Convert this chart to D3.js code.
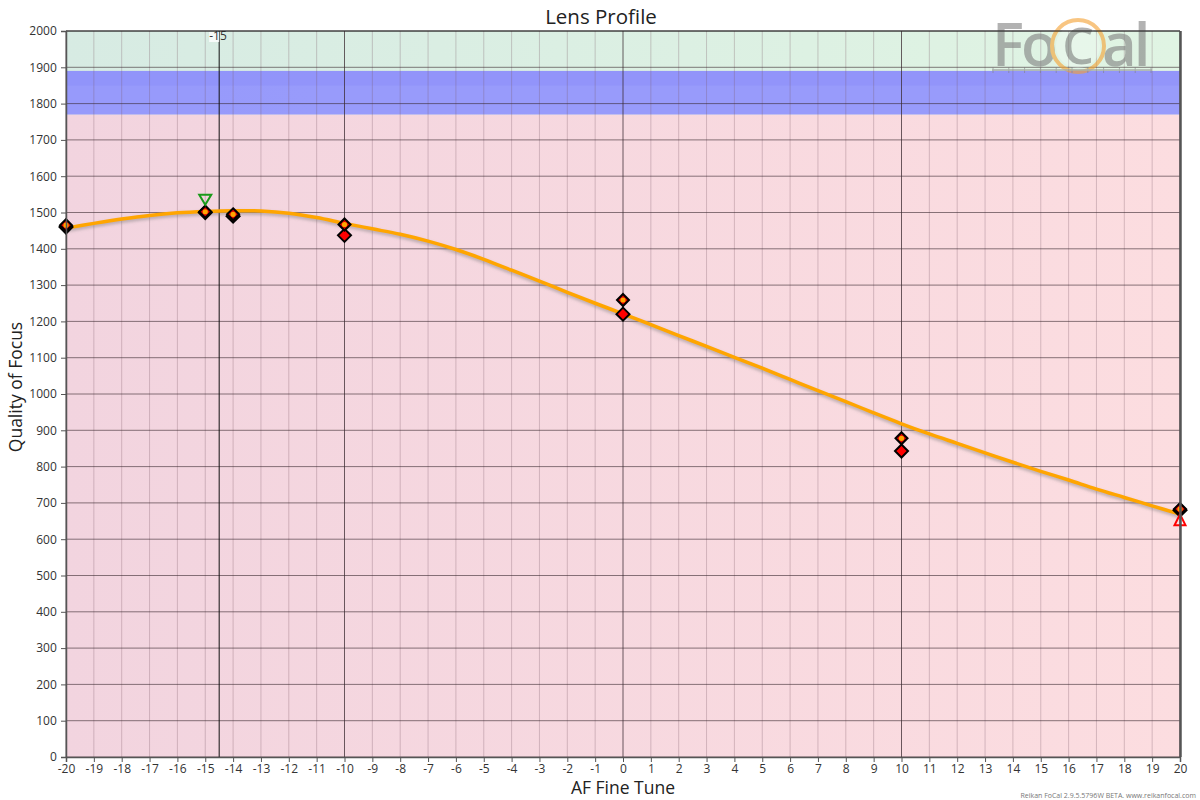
<!DOCTYPE html>
<html><head><meta charset="utf-8">
<script src="https://cdn.jsdelivr.net/npm/d3@7"></script>
<style>body{margin:0;background:#fff;font-family:"Open Sans",sans-serif}</style>
</head><body><svg id="c" width="1200" height="800"></svg>
<script>
const xTicks = d3.range(-20, 21, 1);
const yTicks = d3.range(0, 2001, 100);
// measured points (with orange centre) and secondary points
const measX = [-20, -15, -14, -10, 0, 10, 20];
const measTop = [1465, 1502, 1495, 1467, 1259, 878, 683];
const measLow = [1460, 1500, 1490, 1437, 1220, 843, 680];
// fitted profile curve (read at each integer step)
const curveX = d3.range(-20, 21, 1);
const curveY = [1457, 1470, 1482, 1492, 1499, 1503, 1505, 1504, 1498, 1486, 1470,
                1455, 1440, 1421, 1398, 1371, 1341, 1311, 1280, 1250, 1221,
                1191, 1161, 1131, 1101, 1071, 1040, 1009, 979, 948, 918,
                890, 864, 838, 812, 787, 763, 738, 715, 692, 669];
const bestX = -15, bestY = 1535;      // green down-triangle
const limitX = 20, limitY = 652;       // red up-triangle
const markerLineX = -14.5, markerLabel = "-15";
const bandGreen = [1900, 2000];
const bandBlue = [1770, 1890];
const bandBlue2 = [1850, 1890];

const svg = d3.select("#c");
const m = {l:66, r:1180, t:31, b:757};
const x = d3.scaleLinear().domain([-20,20]).range([m.l,m.r]);
const y = d3.scaleLinear().domain([0,2000]).range([m.b,m.t]);
const defs = svg.append("defs");
const gp = defs.append("linearGradient").attr("id","gp");
gp.append("stop").attr("offset","0").attr("stop-color","#f2d4df");
gp.append("stop").attr("offset","1").attr("stop-color","#fcdde0");
const gg = defs.append("linearGradient").attr("id","gg");
gg.append("stop").attr("offset","0").attr("stop-color","#d7ebe3");
gg.append("stop").attr("offset","1").attr("stop-color","#e0f4e3");
const blur = defs.append("filter").attr("id","bl").attr("x","-5%").attr("y","-20%").attr("width","110%").attr("height","140%");
blur.append("feGaussianBlur").attr("stdDeviation",1.5);

svg.append("rect").attr("x",m.l).attr("y",m.t).attr("width",m.r-m.l).attr("height",m.b-m.t).attr("fill","url(#gp)");
svg.append("rect").attr("x",m.l).attr("y",y(bandGreen[1])).attr("width",m.r-m.l).attr("height",y(1770)-y(bandGreen[1])).attr("fill","url(#gg)");
svg.append("rect").attr("x",m.l).attr("y",y(bandBlue[1])).attr("width",m.r-m.l).attr("height",y(bandBlue[0])-y(bandBlue[1])).attr("fill","#8c8cff").attr("opacity",0.85);
svg.append("rect").attr("x",m.l).attr("y",y(bandBlue2[1])).attr("width",m.r-m.l).attr("height",y(bandBlue2[0])-y(bandBlue2[1])).attr("fill","#6f6ff5").attr("opacity",0.15);

// grid
const grid = svg.append("g");
xTicks.forEach(v=>{
  grid.append("line").attr("x1",x(v)).attr("x2",x(v)).attr("y1",m.t).attr("y2",m.b)
    .attr("stroke", v%10===0 ? "#3a2a30" : "#7a5a66").attr("stroke-opacity", v%10===0?0.75:0.3).attr("stroke-width",1);
});
yTicks.forEach(v=>{
  grid.append("line").attr("x1",m.l).attr("x2",m.r).attr("y1",y(v)).attr("y2",y(v))
    .attr("stroke","#3a2a30").attr("stroke-opacity",0.6).attr("stroke-width",1);
});

// logo watermark
const logo = svg.append("g").attr("opacity",0.6);
logo.append("text").attr("x",992).attr("y",66).attr("font-size",60).attr("font-weight",600).attr("font-family","Open Sans").attr("fill","#808080").attr("letter-spacing",-3).text("Fo");
logo.append("circle").attr("cx",1078).attr("cy",46).attr("r",26).attr("fill","none").attr("stroke","#f5a030").attr("stroke-width",4);
logo.append("circle").attr("cx",1078).attr("cy",46).attr("r",22).attr("fill","#ffffff").attr("opacity",0.4);
logo.append("text").attr("x",1078).attr("y",64).attr("text-anchor","middle").attr("font-size",50).attr("font-weight",600).attr("font-family","Open Sans").attr("fill","#808080").text("C");
logo.append("text").attr("x",1102).attr("y",66).attr("font-size",60).attr("font-weight",600).attr("font-family","Open Sans").attr("fill","#808080").attr("letter-spacing",-3).text("al");
logo.append("line").attr("x1",992).attr("x2",1152).attr("y1",70).attr("y2",70).attr("stroke","#808080").attr("stroke-width",1.5);
d3.range(0,11).forEach(i=>logo.append("line").attr("x1",993+i*15.8).attr("x2",993+i*15.8).attr("y1",67).attr("y2",73).attr("stroke","#808080"));

// marker line
svg.append("line").attr("x1",x(markerLineX)).attr("x2",x(markerLineX)).attr("y1",m.t).attr("y2",m.b).attr("stroke","#111").attr("stroke-width",1);
svg.append("rect").attr("x",x(markerLineX)-10).attr("y",m.t+1).attr("width",10).attr("height",10).attr("fill","#fff").attr("opacity",0.8);
svg.append("text").attr("x",x(markerLineX)-10).attr("y",m.t+9).attr("font-size",12).attr("font-family","Open Sans").attr("fill","#333").text(markerLabel);

// curve
const pts = curveX.map((v,i)=>[x(v),y(curveY[i])]);
const line = d3.line().curve(d3.curveCatmullRom.alpha(0.5));
svg.append("path").attr("d",line(pts)).attr("fill","none").attr("stroke","#777").attr("stroke-opacity",0.45).attr("stroke-width",4).attr("transform","translate(0,2)").attr("filter","url(#bl)");
svg.append("path").attr("d",line(pts)).attr("fill","none").attr("stroke","#ffa500").attr("stroke-width",3.5);

// markers
const diamond = (cx,cy,s)=>`M${cx},${cy-s}L${cx+s},${cy}L${cx},${cy+s}L${cx-s},${cy}Z`;
const mk = svg.append("g");
measX.forEach((v,i)=>{
  mk.append("path").attr("d",diamond(x(v),y(measLow[i]),6.5)).attr("fill","#ff0000").attr("stroke","#000").attr("stroke-width",2);
});
measX.forEach((v,i)=>{
  mk.append("path").attr("d",diamond(x(v),y(measTop[i]),6)).attr("fill","#e00000").attr("stroke","#000").attr("stroke-width",2);
  mk.append("circle").attr("cx",x(v)).attr("cy",y(measTop[i])).attr("r",2.6).attr("fill","#ffa500");
});
const bx=x(bestX), by=y(bestY);
mk.append("path").attr("d",`M${bx-6},${by-5}L${bx+6},${by-5}L${bx},${by+5}Z`).attr("fill","none").attr("stroke","#1a9a1a").attr("stroke-width",2);
const lx=x(limitX), ly=y(limitY);
mk.append("path").attr("d",`M${lx-5.5},${ly+5}L${lx+5.5},${ly+5}L${lx},${ly-6}Z`).attr("fill","none").attr("stroke","#ff0000").attr("stroke-width",2);

// frame
svg.append("line").attr("x1",m.l).attr("x2",m.r).attr("y1",m.t).attr("y2",m.t).attr("stroke","#222").attr("stroke-width",1);
svg.append("line").attr("x1",m.r+0.5).attr("x2",m.r+0.5).attr("y1",m.t).attr("y2",m.b).attr("stroke","#555").attr("stroke-width",2.5);

// axes
const fmt = d => String(d);
const xa = svg.append("g").attr("transform",`translate(0,${m.b})`).call(d3.axisBottom(x).tickValues(xTicks).tickSize(5).tickFormat(fmt));
const ya = svg.append("g").attr("transform",`translate(${m.l},0)`).call(d3.axisLeft(y).tickValues(yTicks).tickSize(5).tickFormat(fmt));
[xa,ya].forEach(a=>{
  a.selectAll("path.domain").attr("stroke","#555").attr("stroke-width",1.5);
  a.selectAll(".tick line").attr("stroke","#555");
  a.selectAll("text").attr("font-size",12).attr("font-family","Open Sans").attr("fill","#333");
});
xa.selectAll("text").attr("y",6).attr("dy","0.8em");
ya.selectAll("text").attr("dx","-0.1em");

svg.append("text").attr("x",601).attr("y",24).attr("text-anchor","middle").attr("font-size",20.5).attr("fill","#222").text("Lens Profile");
svg.append("text").attr("x",623).attr("y",794).attr("text-anchor","middle").attr("font-size",17.5).attr("fill","#222").text("AF Fine Tune");
svg.append("text").attr("transform","translate(22,387) rotate(-90)").attr("text-anchor","middle").attr("font-size",17.5).attr("fill","#222").text("Quality of Focus");
svg.append("text").attr("x",1196).attr("y",798).attr("text-anchor","end").attr("font-size",7).attr("fill","#777").text("Reikan FoCal 2.9.5.5796W BETA. www.reikanfocal.com");
</script></body></html>
